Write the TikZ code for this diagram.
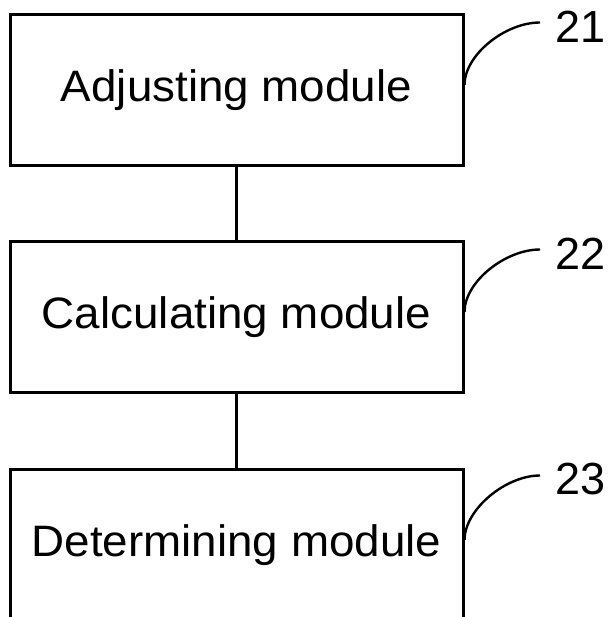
\documentclass[tikz,border=0pt]{standalone}
\usepackage{fontspec}
\setmainfont{Liberation Sans}
\newfontfamily\widesans[FakeStretch=1.04]{Liberation Sans}
\begin{document}
\begin{tikzpicture}[x=1pt,y=-1pt,
  modbox/.style={draw=black, line width=3pt, minimum width=453pt, minimum height=151pt, inner sep=0pt,
    font=\widesans\fontsize{44}{50}\selectfont},
  lbl/.style={inner sep=0pt, anchor=west, font=\fontsize{45}{50}\selectfont},
  link/.style={draw=black, line width=3pt},
  leader/.style={draw=black, line width=2.4pt}]
\useasboundingbox (0,0) rectangle (610,617);
\clip (0,0) rectangle (610,617);
\fill[white] (0,0) rectangle (610,617);
\node[modbox] (b1) at (236.5,90) {Adjusting module};
\node[modbox] (b2) at (236.5,317) {Calculating module};
\node[modbox] (b3) at (236.5,545) {Determining module};
\draw[link] (b1.south) -- (b2.north);
\draw[link] (b2.south) -- (b3.north);
\node[lbl] (l1) at (555,26.5) {21};
\node[lbl] (l2) at (555,253.5) {22};
\node[lbl] (l3) at (555,479.5) {23};
\coordinate (e1) at ([xshift=-15pt,yshift=4pt]l1.west);
\coordinate (e2) at ([xshift=-15pt,yshift=4pt]l2.west);
\coordinate (e3) at ([xshift=-15pt,yshift=4pt]l3.west);
\draw[leader] ([yshift=5pt]b1.east) .. controls +(0,-30) and +(-35,0) .. (e1);
\draw[leader] ([yshift=5pt]b2.east) .. controls +(0,-30) and +(-35,0) .. (e2);
\draw[leader] ([yshift=5pt]b3.east) .. controls +(0,-30) and +(-35,0) .. (e3);
\end{tikzpicture}
\end{document}
